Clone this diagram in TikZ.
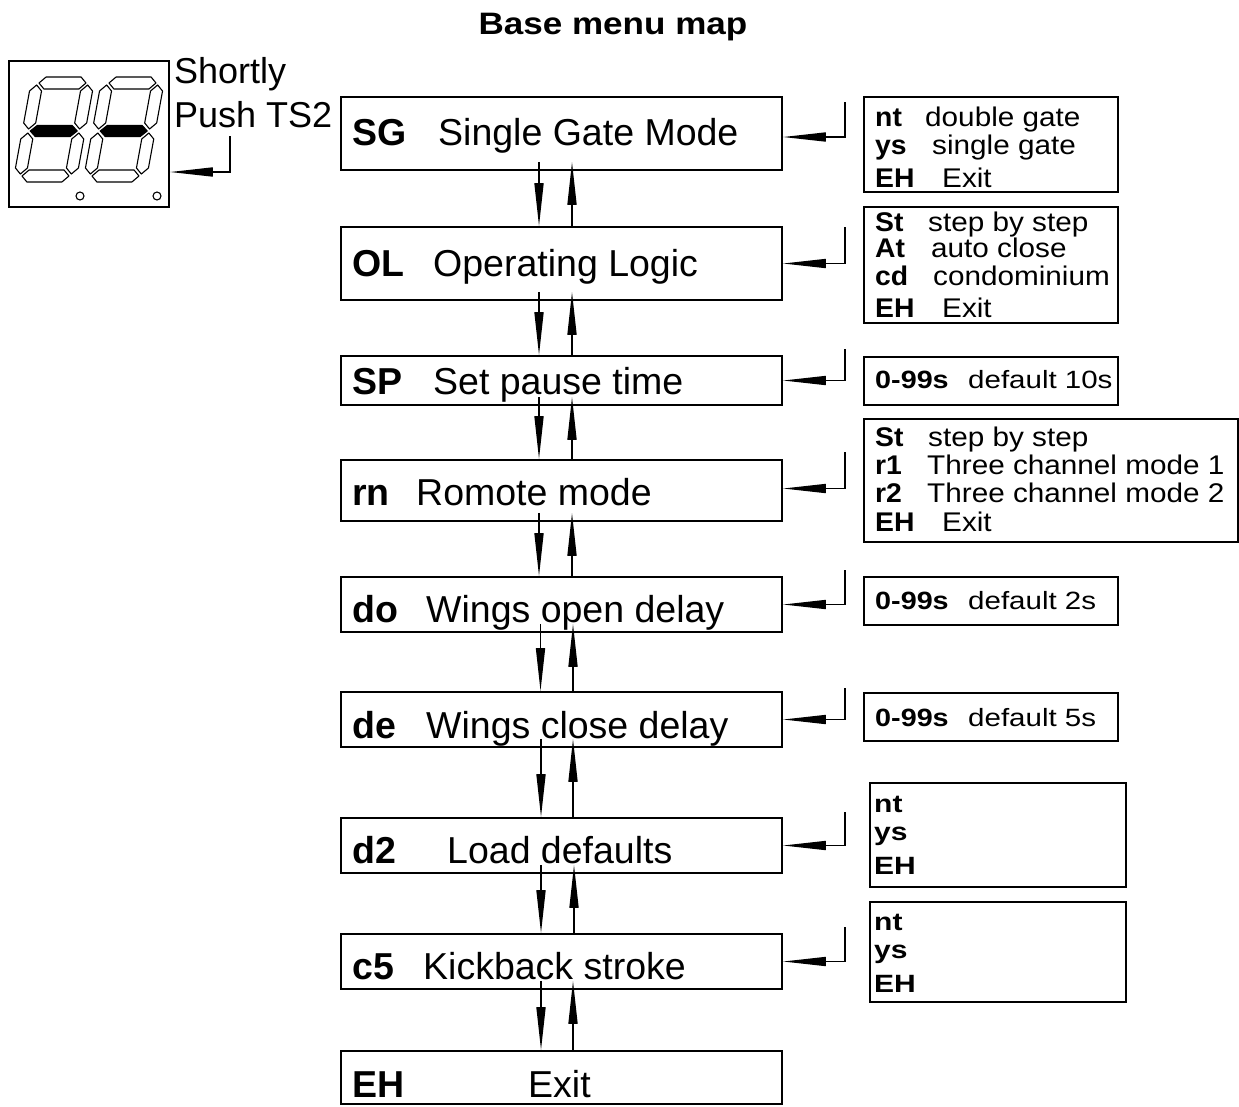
\documentclass[tikz,border=0pt]{standalone}
\usepackage{fontspec}
\usepackage{graphicx}
\setmainfont{Liberation Sans}
\usetikzlibrary{arrows.meta}
\newcommand\wtxt[2]{\scalebox{#1}[1]{#2}}
\tikzset{
  mbox/.style={draw, line width=1.6pt, minimum width=441pt, inner sep=0pt},
  rbox/.style={draw, line width=1.6pt, inner sep=0pt},
  mlab/.style={anchor=base west, inner sep=0pt, font=\fontsize{37.5}{40}\selectfont\bfseries},
  mtxt/.style={anchor=base west, inner sep=0pt, font=\fontsize{37.5}{40}\selectfont},
  rlab/.style={anchor=base west, inner sep=0pt, font=\fontsize{27}{30}\selectfont\bfseries},
  rtxt/.style={anchor=base west, inner sep=0pt, font=\fontsize{27}{30}\selectfont},
  slab/.style={anchor=base west, inner sep=0pt, font=\fontsize{25}{28}\selectfont\bfseries},
  stxt/.style={anchor=base west, inner sep=0pt, font=\fontsize{25}{28}\selectfont},
  arr/.style={line width=1.6pt, -{Triangle[length=43pt,width=9pt]}},
  seg/.style={draw, line width=1.1pt, line join=round},
  segdigit/.pic={
    \draw[seg] (2,0) -- (8,-6) -- (43,-6) -- (49,0) -- (43,6) -- (8,6) -- cycle;
    \draw[seg, fill=black] (2,48) -- (8,42.5) -- (43,42.5) -- (49,48) -- (43,53.5) -- (8,53.5) -- cycle;
    \draw[seg] (2,93) -- (8,87) -- (43,87) -- (49,93) -- (43,99) -- (8,99) -- cycle;
    \draw[seg] (0,2) -- (6,8) -- (6,40) -- (0,46) -- (-6,40) -- (-6,8) -- cycle;
    \draw[seg] (51,2) -- (57,8) -- (57,40) -- (51,46) -- (45,40) -- (45,8) -- cycle;
    \draw[seg] (0,50) -- (6,56) -- (6,85) -- (0,91) -- (-6,85) -- (-6,56) -- cycle;
    \draw[seg] (51,50) -- (57,56) -- (57,85) -- (51,91) -- (45,85) -- (45,56) -- cycle;
  }
}
\begin{document}
\begin{tikzpicture}[x=1pt, y=-1pt]
\useasboundingbox (0,0) rectangle (1239,1106);

% title
\node[inner sep=0pt, anchor=base, font=\fontsize{31}{33}\selectfont\bfseries] (title) at (613,34) {\wtxt{1.13}{Base menu map}};

% display
\node[draw, line width=1.6pt, minimum width=160pt, minimum height=146pt, inner sep=0pt] (disp) at (89,134) {};
\pic[shift={(37,83)}, xslant=0.183] (dg1) {segdigit};
\pic[shift={(107,83)}, xslant=0.183] (dg2) {segdigit};
\draw[line width=1.1pt] (80,196) circle (4);
\draw[line width=1.1pt] (157,196) circle (4);
\node[anchor=base west, inner sep=0pt, font=\fontsize{36}{38}\selectfont] (short) at (174,83) {Shortly};
\node[anchor=base west, inner sep=0pt, font=\fontsize{36}{38}\selectfont] (push) at (174,127) {Push TS2};
\coordinate (tdisp) at (230,136);
\draw[arr] (tdisp) |- ([yshift=-38pt]disp.east);

% main boxes
\node[mbox, minimum height=73pt] (sg) at (561.5,133.5) {};
\node[mbox, minimum height=73pt] (ol) at (561.5,263.5) {};
\node[mbox, minimum height=49pt] (sp) at (561.5,380.5) {};
\node[mbox, minimum height=61pt] (rn) at (561.5,490.5) {};
\node[mbox, minimum height=55pt] (do) at (561.5,604.5) {};
\node[mbox, minimum height=55pt] (de) at (561.5,719.5) {};
\node[mbox, minimum height=55pt] (dd) at (561.5,845.5) {};
\node[mbox, minimum height=55pt] (cf) at (561.5,961.5) {};
\node[mbox, minimum height=53pt] (eh) at (561.5,1077.5) {};

\node[mlab] (sgl) at (352,145) {SG};   \node[mtxt] (sgt) at (438,145) {Single Gate Mode};
\node[mlab] (oll) at (352,276) {OL};   \node[mtxt] (olt) at (433,276) {Operating Logic};
\node[mlab] (spl) at (352,394) {SP};   \node[mtxt] (spt) at (433,394) {Set pause time};
\node[mlab] (rnl) at (352,505) {rn};   \node[mtxt] (rnt) at (416,505) {Romote mode};
\node[mlab] (dol) at (352,622) {do};   \node[mtxt] (dot) at (426,622) {Wings open delay};
\node[mlab] (del) at (352,738) {de};   \node[mtxt] (det) at (426,738) {Wings close delay};
\node[mlab] (ddl) at (352,863) {d2};   \node[mtxt] (ddt) at (447,863) {Load defaults};
\node[mlab] (cfl) at (352,979) {c5};   \node[mtxt] (cft) at (423,979) {Kickback stroke};
\node[mlab] (ehl) at (352,1097) {EH};  \node[mtxt] (eht) at (528,1097) {Exit};

% vertical arrows
\foreach \a/\b/\dx/\ux in {sg/ol/-22.5/10.5, ol/sp/-22.5/10.5, sp/rn/-22.5/10.5, rn/do/-22.5/10.5,
                           do/de/-21/11.5, de/dd/-20.5/11.5, dd/cf/-20.5/12.5, cf/eh/-20.5/11.5}{
  \draw[arr] ([xshift=\dx pt, yshift=9pt]\a.south) -- ([xshift=\dx pt]\b.north);
  \draw[arr] ([xshift=\ux pt]\b.north) -- ([xshift=\ux pt, yshift=9pt]\a.south);
}

% right boxes
\node[rbox, minimum width=254pt, minimum height=95pt] (r1) at (991,144.5) {};
\node[rbox, minimum width=254pt, minimum height=116pt] (r2) at (991,265) {};
\node[rbox, minimum width=254pt, minimum height=48pt] (r3) at (991,381) {};
\node[rbox, minimum width=374pt, minimum height=123pt] (r4) at (1051,480.5) {};
\node[rbox, minimum width=254pt, minimum height=48pt] (r5) at (991,601) {};
\node[rbox, minimum width=254pt, minimum height=48pt] (r6) at (991,717) {};
\node[rbox, minimum width=256pt, minimum height=104pt] (r7) at (998,835) {};
\node[rbox, minimum width=256pt, minimum height=100pt] (r8) at (998,952) {};

\node[rlab] (r1a) at (875,126) {\wtxt{1.05}{nt}}; \node[rtxt] (r1b) at (925,126) {\wtxt{1.1}{double gate}};
\node[rlab] (r1c) at (875,154) {\wtxt{1.05}{ys}}; \node[rtxt] (r1d) at (932,154) {\wtxt{1.1}{single gate}};
\node[rlab] (r1e) at (875,187) {\wtxt{1.05}{EH}}; \node[rtxt] (r1f) at (942,187) {\wtxt{1.1}{Exit}};

\node[rlab] (r2a) at (875,231) {\wtxt{1.05}{St}}; \node[rtxt] (r2b) at (928,231) {\wtxt{1.1}{step by step}};
\node[rlab] (r2c) at (875,257) {\wtxt{1.05}{At}}; \node[rtxt] (r2d) at (931,257) {\wtxt{1.1}{auto close}};
\node[rlab] (r2e) at (875,285) {\wtxt{1.05}{cd}}; \node[rtxt] (r2f) at (933,285) {\wtxt{1.1}{condominium}};
\node[rlab] (r2g) at (875,317) {\wtxt{1.05}{EH}}; \node[rtxt] (r2h) at (942,317) {\wtxt{1.1}{Exit}};

\node[slab] (r3a) at (875,388) {\wtxt{1.15}{0-99s}}; \node[stxt] (r3b) at (968,388) {\wtxt{1.18}{default 10s}};

\node[rlab] (r4a) at (875,446) {\wtxt{1.05}{St}}; \node[rtxt] (r4b) at (928,446) {\wtxt{1.1}{step by step}};
\node[rlab] (r4c) at (875,474) {\wtxt{1.05}{r1}}; \node[rtxt] (r4d) at (927,474) {\wtxt{1.1}{Three channel mode 1}};
\node[rlab] (r4e) at (875,502) {\wtxt{1.05}{r2}}; \node[rtxt] (r4f) at (927,502) {\wtxt{1.1}{Three channel mode 2}};
\node[rlab] (r4g) at (875,531) {\wtxt{1.05}{EH}}; \node[rtxt] (r4h) at (942,531) {\wtxt{1.1}{Exit}};

\node[slab] (r5a) at (875,609) {\wtxt{1.15}{0-99s}}; \node[stxt] (r5b) at (968,609) {\wtxt{1.18}{default 2s}};
\node[slab] (r6a) at (875,726) {\wtxt{1.15}{0-99s}}; \node[stxt] (r6b) at (968,726) {\wtxt{1.18}{default 5s}};

\node[slab] (r7a) at (874,812) {\wtxt{1.2}{nt}};
\node[slab] (r7b) at (874,840) {\wtxt{1.2}{ys}};
\node[slab] (r7c) at (874,874) {\wtxt{1.2}{EH}};
\node[slab] (r8a) at (874,930) {\wtxt{1.2}{nt}};
\node[slab] (r8b) at (874,958) {\wtxt{1.2}{ys}};
\node[slab] (r8c) at (874,992) {\wtxt{1.2}{EH}};

% right connectors
\coordinate (tsg) at (845,102);
\coordinate (tol) at (845,227);
\coordinate (tsp) at (845,349);
\coordinate (trn) at (845,452);
\coordinate (tdo) at (845,570);
\coordinate (tde) at (845,688);
\coordinate (tdd) at (845,812);
\coordinate (tcf) at (845,927);
\draw[arr] (tsg) |- ([yshift=-3.5pt]sg.east);
\draw[arr] (tol) |- (ol.east);
\draw[arr] (tsp) |- (sp.east);
\draw[arr] (trn) |- ([yshift=2pt]rn.east);
\draw[arr] (tdo) |- (do.east);
\draw[arr] (tde) |- (de.east);
\draw[arr] (tdd) |- (dd.east);
\draw[arr] (tcf) |- (cf.east);
\end{tikzpicture}
\end{document}
